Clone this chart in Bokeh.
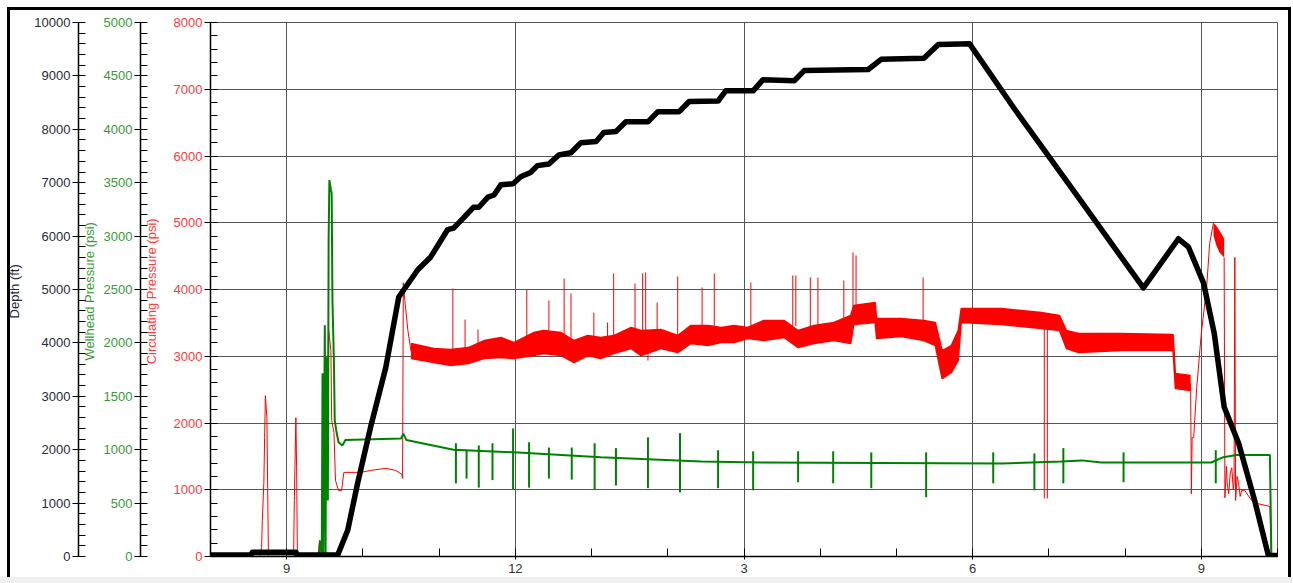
from bokeh.plotting import figure
from bokeh.models import Range1d, LinearAxis, SingleIntervalTicker, FixedTicker
from bokeh.embed import file_html
from bokeh.resources import INLINE

# ---------------- data (time in hours of day) ----------------
depth_t = [8.00, 8.53, 8.55, 9.12, 9.14, 9.67, 9.80, 9.93, 10.10, 10.30, 10.47, 10.72, 10.89, 11.11,
           11.19, 11.32, 11.45, 11.52, 11.64, 11.72, 11.81, 11.97, 12.07, 12.20, 12.29, 12.44, 12.57,
           12.73, 12.86, 13.06, 13.16, 13.32, 13.45, 13.74, 13.87, 14.15, 14.28, 14.66, 14.76, 15.12,
           15.25, 15.66, 15.79, 16.63, 16.80, 17.36, 17.55, 17.96, 18.55, 19.43, 20.24, 20.70, 20.83,
           21.03, 21.17, 21.30, 21.49, 21.70, 21.88, 22.00]
depth_ft = [30, 30, 80, 80, 30, 30, 490, 1370, 2420, 3540, 4860, 5370, 5610, 6120,
            6150, 6340, 6540, 6540, 6730, 6770, 6960, 6980, 7110, 7190, 7320, 7350, 7520,
            7560, 7750, 7770, 7940, 7960, 8140, 8140, 8330, 8330, 8520, 8530, 8720, 8720,
            8930, 8910, 9100, 9120, 9310, 9330, 9590, 9600, 8380, 6640, 5030, 5950, 5800,
            5120, 4180, 2800, 2120, 1050, 20, 20]

green_t = [8.00, 9.42, 9.44, 9.46, 9.47, 9.48, 9.50, 9.51, 9.52, 9.54, 9.55, 9.56, 9.58, 9.59,
           9.60, 9.62, 9.63, 9.65, 9.68, 9.73, 9.77, 10.50, 10.53, 10.57, 11.19, 11.98, 13.12,
           14.44, 15.22, 18.38, 19.16, 19.43, 19.69, 21.13, 21.29, 21.46, 21.90, 21.92, 22.00]
green_psi = [0, 0, 150, 0, 1715, 0, 2165, 0, 1865, 525, 2990, 3525, 3430, 3405,
             2400, 1810, 1275, 1180, 1070, 1040, 1090, 1105, 1150, 1090, 1000, 975, 930,
             890, 880, 870, 890, 900, 880, 880, 930, 950, 950, 0, 0]
green_spike_t = [11.22, 11.36, 11.52, 11.70, 11.97, 12.18, 12.44, 12.74, 13.04, 13.32, 13.74, 14.16,
                 14.66, 15.12, 15.71, 16.17, 16.67, 17.39, 18.27, 18.81, 19.19, 19.98, 21.19]
green_spike_top = [1060, 1000, 1040, 1060, 1200, 1070, 1020, 1020, 1060, 1015, 1115, 1155,
                   995, 985, 985, 985, 975, 975, 975, 965, 1015, 975, 995]
green_spike_bot = [685, 730, 645, 715, 630, 645, 730, 720, 630, 665, 640, 600,
                   640, 620, 695, 685, 640, 555, 685, 620, 685, 695, 685]

red_pre_t = [8.00, 8.64, 8.67, 8.68, 8.70, 8.71, 8.72, 8.74, 8.75, 8.76, 9.09, 9.10, 9.12, 9.13,
             9.14, 9.41, 9.43, 9.46, 9.48, 9.52, 9.55, 9.58, 9.59, 9.62, 9.64, 9.68, 9.72, 9.75,
             9.97, 10.10, 10.30, 10.43, 10.51, 10.52, 10.53, 10.55, 10.59, 10.63]
red_pre_psi = [0, 0, 135, 540, 1110, 1780, 2410, 2080, 1020, 0, 0, 840, 2080, 1330,
               0, 0, 240, 120, 540, 1440, 3390, 3090, 2040, 1860, 1140, 990, 990, 1260,
               1260, 1290, 1320, 1290, 1230, 1170, 4100, 3835, 3385, 3080]
band_t = [10.63, 10.93, 11.15, 11.38, 11.59, 11.81, 11.98, 12.24, 12.37, 12.60, 12.77, 12.95,
          13.12, 13.29, 13.52, 13.65, 13.91, 14.13, 14.30, 14.53, 14.70, 14.87, 15.05, 15.26,
          15.53, 15.71, 15.92, 16.18, 16.40, 16.44, 16.72, 16.74, 17.06, 17.36, 17.51, 17.60,
          17.72, 17.81, 17.85, 18.38, 18.90, 19.14, 19.23, 19.39, 19.95, 20.63, 20.66, 20.86]
band_hi = [3190, 3115, 3100, 3130, 3235, 3280, 3205, 3355, 3385, 3355, 3235, 3310,
           3280, 3310, 3430, 3385, 3400, 3310, 3460, 3460, 3430, 3460, 3430, 3535,
           3535, 3385, 3460, 3505, 3610, 3760, 3805, 3565, 3565, 3535, 3505, 3085,
           3160, 3385, 3715, 3715, 3655, 3610, 3385, 3340, 3340, 3325, 2740, 2710]
band_lo = [2965, 2905, 2860, 2890, 2965, 2980, 2965, 3010, 3040, 3010, 2905, 3010,
           2965, 3040, 3115, 3010, 3115, 3055, 3190, 3160, 3205, 3205, 3265, 3235,
           3280, 3130, 3190, 3235, 3190, 3475, 3505, 3265, 3295, 3235, 3160, 2665,
           2755, 2935, 3505, 3475, 3415, 3385, 3115, 3055, 3085, 3085, 2515, 2485]
red_post_t = [20.86, 20.87, 20.88, 20.90, 20.94, 21.00, 21.07, 21.11, 21.16]
red_post_psi = [2600, 940, 1780, 1780, 2530, 3340, 4030, 4690, 5000]
band2_t = [21.16, 21.20, 21.24, 21.30]
band2_hi = [5000, 4950, 4880, 4765]
band2_lo = [4810, 4650, 4555, 4480]
red_end_t = [21.30, 21.31, 21.33, 21.34, 21.36, 21.38, 21.40, 21.42, 21.43, 21.44, 21.45, 21.47,
             21.49, 21.51, 21.53, 21.57, 21.66, 21.75, 21.90, 21.92, 22.00]
red_end_psi = [4480, 880, 1350, 1100, 940, 1250, 1330, 1000, 1100, 4480, 840, 1200,
               1090, 900, 990, 990, 840, 790, 750, 0, 0]
red_spike_t = [11.18, 11.34, 11.51, 12.15, 12.44, 12.64, 12.73, 13.03, 13.21, 13.29, 13.57, 13.67,
               13.71, 13.86, 14.13, 14.45, 14.61, 15.09, 15.64, 15.68, 15.87, 15.97, 16.31, 16.43,
               16.47, 17.35, 13.74, 18.94, 18.98]
red_spike_base = [3100, 3100, 3150, 3250, 3300, 3300, 3250, 3250, 3250, 3250, 3350, 3350,
                  3350, 3350, 3300, 3400, 3400, 3400, 3450, 3450, 3400, 3400, 3450, 3500,
                  3600, 3500, 3200, 3500, 3500]
red_spike_tip = [4015, 3550, 3400, 4000, 3835, 4165, 3940, 3655, 3505, 4240, 4090, 4240,
                 4255, 3805, 4195, 4030, 4240, 4105, 4210, 4210, 4180, 4180, 4135, 4555,
                 4510, 4180, 2935, 870, 870]

hour_major = [9, 12, 15, 18, 21]
hour_minor = [8, 9, 10, 11, 12, 13, 14, 15, 16, 17, 18, 19, 20, 21, 22]
hour_labels = {9: "9", 12: "12", 15: "3", 18: "6", 21: "9"}

RED = "#ff0000"
RED_TXT = "#ff3b3b"
GREEN = "#008000"
GREEN_TXT = "#3a9a3a"
DEPTH_TXT = "#2a2a3a"
FONT = "Liberation Sans"

# ---------------- figure ----------------
p = figure(width=1292, height=583, x_range=Range1d(8, 22), y_range=Range1d(0, 8000),
           output_backend="svg", toolbar_location=None,
           min_border_left=210, min_border_right=15, min_border_top=22, min_border_bottom=27)
p.extra_y_ranges = {"green": Range1d(0, 5000), "depth": Range1d(0, 10000)}
p.background_fill_color = "white"
p.border_fill_color = None
p.outline_line_color = "#555555"
p.outline_line_width = 1
p.styles = {"background": (
    "linear-gradient(#000,#000) 7px 7px / 1284px 3px no-repeat, "
    "linear-gradient(#000,#000) 7px 7px / 3px 570px no-repeat, "
    "linear-gradient(#000,#000) 1288px 7px / 3px 570px no-repeat, "
    "linear-gradient(#f0f0f0,#f0f0f0) 0px 577px / 1292px 6px no-repeat, "
    "#ffffff")}


def style_axis(ax, txt_color, label_color, label_standoff):
    ax.axis_line_color = "black"
    ax.axis_line_width = 1.5
    ax.major_tick_line_color = "black"
    ax.minor_tick_line_color = "black"
    ax.major_tick_out = 6
    ax.major_tick_in = 6
    ax.minor_tick_out = 0
    ax.minor_tick_in = 7
    ax.major_label_standoff = 2
    ax.major_label_text_font = FONT
    ax.major_label_text_font_size = "13px"
    ax.major_label_text_color = txt_color
    ax.axis_label_text_font = FONT
    ax.axis_label_text_font_size = "13px"
    ax.axis_label_text_font_style = "normal"
    ax.axis_label_text_color = label_color
    ax.axis_label_standoff = label_standoff


# red (circulating) axis = default
red_ticker = SingleIntervalTicker(interval=1000, num_minor_ticks=5)
red_ax = p.yaxis[0]
red_ax.ticker = red_ticker
red_ax.axis_label = "Circulating Pressure  (psi)"
style_axis(red_ax, RED_TXT, RED_TXT, 12)
p.ygrid[0].ticker = red_ticker
p.ygrid.grid_line_color = "#555555"
p.ygrid.grid_line_width = 1

green_ax = LinearAxis(y_range_name="green",
                      ticker=SingleIntervalTicker(interval=500, num_minor_ticks=5),
                      axis_label="Wellhead Pressure  (psi)")
style_axis(green_ax, GREEN_TXT, GREEN_TXT, 4)
p.add_layout(green_ax, "left")

depth_ax = LinearAxis(y_range_name="depth",
                      ticker=SingleIntervalTicker(interval=1000, num_minor_ticks=5),
                      axis_label="Depth  (ft)")
style_axis(depth_ax, DEPTH_TXT, DEPTH_TXT, 9)
p.add_layout(depth_ax, "left")

# x axis
x_ticker = FixedTicker(ticks=hour_major, minor_ticks=hour_minor)
xa = p.xaxis[0]
xa.ticker = x_ticker
xa.major_label_overrides = hour_labels
xa.axis_line_color = "black"
xa.axis_line_width = 1.5
xa.major_tick_line_color = "black"
xa.minor_tick_line_color = "black"
xa.major_tick_out = 3
xa.major_tick_in = 0
xa.minor_tick_in = 8
xa.minor_tick_out = 0
xa.major_label_standoff = 4
xa.major_label_text_font = FONT
xa.major_label_text_font_size = "13px"
xa.major_label_text_color = "#333333"
p.xgrid[0].ticker = x_ticker
p.xgrid.grid_line_color = "#555555"
p.xgrid.grid_line_width = 1

# ---------------- glyphs ----------------
p.varea(x=band_t, y1=band_lo, y2=band_hi, fill_color=RED)
p.varea(x=band2_t, y1=band2_lo, y2=band2_hi, fill_color=RED)
p.line(red_pre_t, red_pre_psi, line_color=RED, line_width=1)
p.line(band_t, band_hi, line_color=RED, line_width=1.5)
p.line(band_t, band_lo, line_color=RED, line_width=1.5)
p.line(red_post_t, red_post_psi, line_color=RED, line_width=1)
p.line(red_end_t, red_end_psi, line_color=RED, line_width=1)
p.segment(x0=red_spike_t, y0=red_spike_base, x1=red_spike_t, y1=red_spike_tip,
          line_color=RED, line_width=1)

p.line(green_t, green_psi, y_range_name="green", line_color=GREEN, line_width=2)
p.segment(x0=green_spike_t, y0=green_spike_bot, x1=green_spike_t, y1=green_spike_top,
          y_range_name="green", line_color=GREEN, line_width=2)

p.line(depth_t, depth_ft, y_range_name="depth", line_color="black", line_width=5.5,
       line_join="round", line_cap="round")

open("out.html", "w").write(file_html(p, INLINE))
